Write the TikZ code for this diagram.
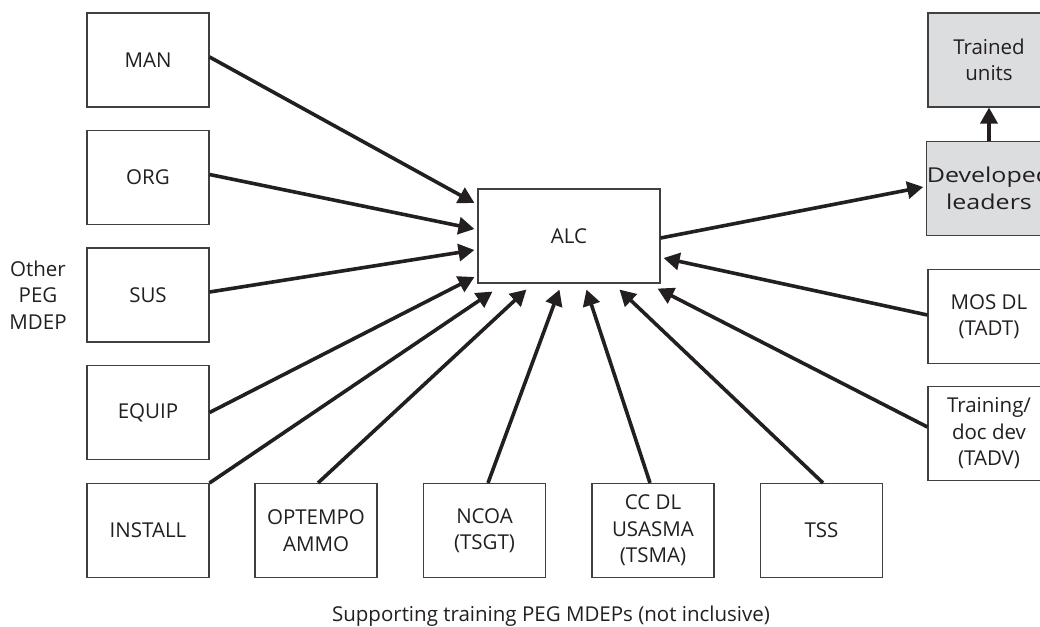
\documentclass[tikz,border=0pt]{standalone}
\usepackage{fontspec}
\setmainfont{Open Sans}
\newfontfamily\widesans[FakeStretch=1.22]{Open Sans}
\usetikzlibrary{arrows.meta}
\definecolor{ink}{HTML}{231F20}
\definecolor{frame}{HTML}{404040}
\definecolor{shade}{HTML}{DCDDDE}
\begin{document}
\begin{tikzpicture}[x=1pt,y=-1pt,
  every node/.style={font=\fontsize{20.5}{26.5}\selectfont, text=ink},
  box/.style={draw=frame, line width=1.1pt, fill=white, minimum width=122pt,
    minimum height=94pt, align=center, inner sep=0pt},
  outbox/.style={box, fill=shade},
  feed/.style={draw=ink, line width=3.6pt,
    -{Triangle[length=16pt,width=17pt]}, shorten >=0pt}]
\useasboundingbox (0,0) rectangle (1040,626);

% other PEG MDEP column
\node[box] (man)     at (148,60)    {MAN};
\node[box] (org)     at (148,177.5) {ORG};
\node[box] (sus)     at (148,295)   {SUS};
\node[box] (equip)   at (148,412.5) {EQUIP};
\node[box] (install) at (148,530.5) {INSTALL};
\node[align=center] (other) at (38,295) {Other\\PEG\\MDEP};

% supporting training row
\node[box] (optempo) at (316,530.5)   {OPTEMPO\\AMMO};
\node[box] (ncoa)    at (484.5,530.5) {NCOA\\(TSGT)};
\node[box] (ccdl)    at (653,530.5)   {CC DL\\USASMA\\(TSMA)};
\node[box] (tss)     at (821.5,530.5) {TSS};
\node (caption) at (551,616) {Supporting training PEG MDEPs (not inclusive)};

% central node
\node[box, minimum width=182pt] (alc) at (569,236) {ALC};

% right column
\node[outbox] (trained)   at (989,60)    {Trained\\units};
\node[outbox, font=\widesans\fontsize{20.5}{26.5}\selectfont] (developed)
  at (989,188.5) {Developed\\leaders};
\node[box]    (mos)       at (989,316.5) {MOS DL\\(TADT)};
\node[box]    (docdev)    at (989,433.5) {Training/\\doc dev\\(TADV)};

% inputs into ALC
\draw[feed] ([shift={(0,-3)}]man.east)   -- ([shift={(-3,-33)}]alc.west);
\draw[feed] ([shift={(0,-3)}]org.east)   -- ([shift={(-3,-7)}]alc.west);
\draw[feed] ([shift={(0,-3)}]sus.east)   -- ([shift={(-3,14)}]alc.west);
\draw[feed] (equip.east)                 -- ([shift={(-3,41)}]alc.west);
\draw[feed] (install.north east)         -- ([shift={(15,8)}]alc.south west);
\draw[feed] ([shift={(2,0)}]optempo.north) -- ([shift={(49,6)}]alc.south west);
\draw[feed] ([shift={(3.5,0)}]ncoa.north)  -- ([shift={(82,6)}]alc.south west);
\draw[feed] ([shift={(-3,0)}]ccdl.north)   -- ([shift={(109,6)}]alc.south west);
\draw[feed] ([shift={(1.5,0)}]tss.north)   -- ([shift={(142,6)}]alc.south west);
\draw[feed] ([shift={(0,-6.5)}]docdev.west) -- ([shift={(-3,5)}]alc.south east);
\draw[feed] ([shift={(0,-1.5)}]mos.west)  -- ([shift={(3,22)}]alc.east);

% outputs
\draw[feed] ([shift={(0,2)}]alc.east) -- ([shift={(-3,-1.5)}]developed.west);
\draw[feed] (developed.north) -- (trained.south);
\end{tikzpicture}
\end{document}
